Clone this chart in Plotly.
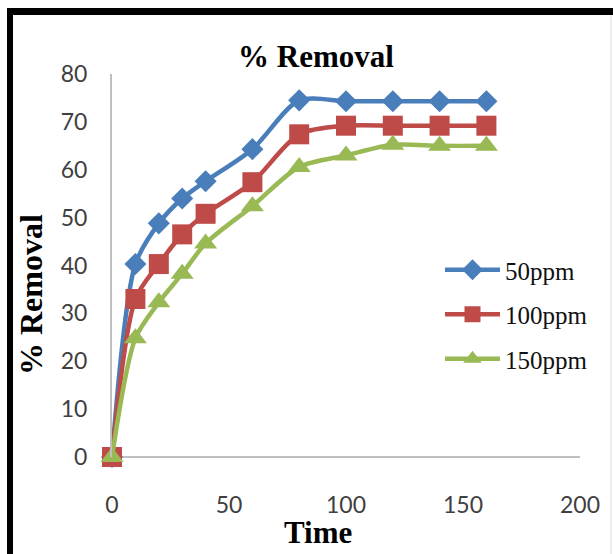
import plotly.graph_objects as go

time = [0, 10, 20, 30, 40, 60, 80, 100, 120, 140, 160]
ppm50 = [0, 40.3, 48.8, 54.0, 57.6, 64.3, 74.5, 74.3, 74.3, 74.3, 74.3]
ppm100 = [0, 33.0, 40.3, 46.5, 50.8, 57.4, 67.4, 69.2, 69.2, 69.2, 69.2]
ppm150 = [0, 24.8, 32.3, 38.3, 44.6, 52.4, 60.6, 63.0, 65.2, 65.0, 65.0]
names = ["50ppm", "100ppm", "150ppm"]
colors = ["#4A7EBB", "#BE4B48", "#98B954"]
symbols = ["diamond", "square", "triangle-up"]
sizes = [17, 20, 20]

W, H = 613, 554
L, R, T, B = 112, 33, 74, 97

fig = go.Figure()
for name, ys, c, s, sz in zip(names, [ppm50, ppm100, ppm150], colors, symbols, sizes):
    fig.add_trace(go.Scatter(
        x=time, y=ys, name=name, legendgroup=name, mode="lines+markers",
        line=dict(color=c, width=4.5, shape="spline", smoothing=0.8),
        marker=dict(symbol=s, size=sz, color=c), cliponaxis=False,
    ))

def px_x(px):
    return (px - L) / (W - L - R)

def px_y(py):
    return (H - B - py) / (H - T - B)

fig.update_layout(
    width=W, height=H,
    margin=dict(l=L, r=R, t=T, b=B),
    paper_bgcolor="white", plot_bgcolor="white",
    showlegend=True,
    legend=dict(x=px_x(440), y=px_y(247), xanchor="left", yanchor="top",
                font=dict(family="Liberation Serif", size=25, color="#111"),
                itemwidth=55, bgcolor="rgba(0,0,0,0)", tracegroupgap=9),
    xaxis=dict(range=[0, 200], tickvals=[0, 50, 100, 150, 200], showgrid=False,
               zeroline=False, showline=False, ticks="",
               tickfont=dict(family="Lato", size=23, color="#404040"),
               ticklabelstandoff=32),
    yaxis=dict(range=[0, 80], tickvals=list(range(0, 90, 10)), showgrid=False,
               zeroline=False, showline=True, linecolor="#BFBFBF", linewidth=2,
               ticks="", tickfont=dict(family="Lato", size=23, color="#404040"),
               ticklabelstandoff=18),
    annotations=[
        dict(text="<b>% Removal</b>", xref="paper", yref="paper",
             x=px_x(316), y=px_y(56), xanchor="center", yanchor="middle", showarrow=False,
             font=dict(family="Liberation Serif", size=31, color="black")),
        dict(text="<b>Time</b>", xref="paper", yref="paper",
             x=px_x(318), y=px_y(532), xanchor="center", yanchor="middle", showarrow=False,
             font=dict(family="Liberation Serif", size=31, color="black")),
        dict(text="<b>% Removal</b>", xref="paper", yref="paper", textangle=-90,
             x=px_x(31), y=px_y(295), xanchor="center", yanchor="middle", showarrow=False,
             font=dict(family="Liberation Serif", size=32, color="black")),
    ],
    shapes=[
        dict(type="line", xref="paper", yref="paper", x0=px_x(112), x1=px_x(580),
             y0=0, y1=0, line=dict(color="#BFBFBF", width=2), layer="below"),
        dict(type="line", xref="paper", yref="paper", x0=px_x(10), x1=px_x(10),
             y0=px_y(8), y1=px_y(560), line=dict(color="black", width=6)),
        dict(type="line", xref="paper", yref="paper", x0=px_x(7), x1=px_x(620),
             y0=px_y(11.5), y1=px_y(11.5), line=dict(color="black", width=7)),
        dict(type="line", xref="paper", yref="paper", x0=px_x(611), x1=px_x(611),
             y0=px_y(15), y1=px_y(560), line=dict(color="#DDDDDD", width=1)),
    ],
)

fig.write_html("out.html")
